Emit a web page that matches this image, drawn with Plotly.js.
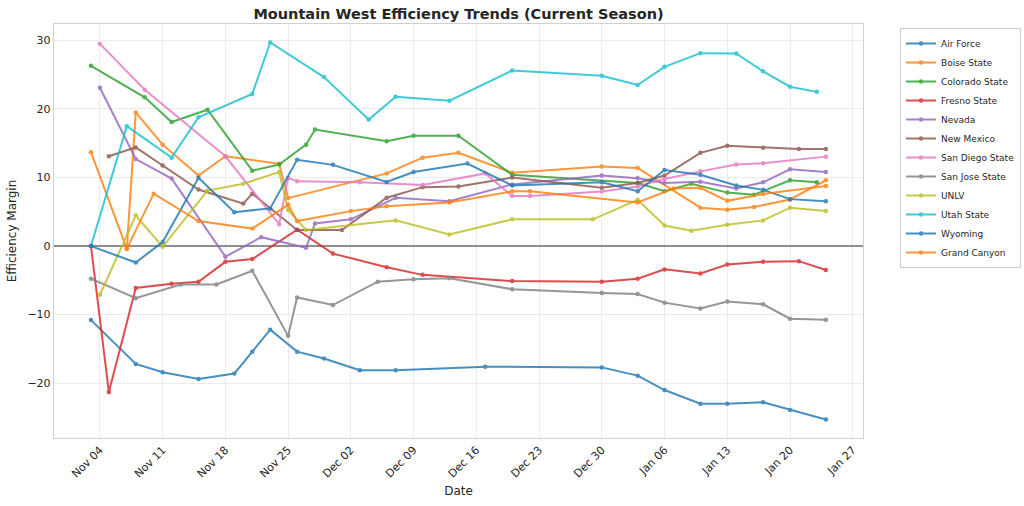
<!DOCTYPE html>
<html>
<head>
<meta charset="utf-8">
<script src="https://cdn.plot.ly/plotly-3.0.1.min.js"></script>
<style>
  html, body { margin: 0; padding: 0; background: #ffffff; }
  #chart { width: 1024px; height: 506px; }
</style>
</head>
<body>
<div id="chart"></div>
<script>
// ---- Data ----
const teams = ["Air Force", "Boise State", "Colorado State", "Fresno State", "Nevada",
  "New Mexico", "San Diego State", "San Jose State", "UNLV", "Utah State", "Wyoming", "Grand Canyon"];

const airForceDates = ["2024-11-03","2024-11-08","2024-11-11","2024-11-15","2024-11-19","2024-11-21","2024-11-23","2024-11-26","2024-11-29","2024-12-03","2024-12-07","2024-12-17","2024-12-30","2025-01-03","2025-01-06","2025-01-10","2025-01-13","2025-01-17","2025-01-20","2025-01-24"];
const airForceValues = [-10.8,-17.2,-18.4,-19.4,-18.6,-15.4,-12.2,-15.4,-16.4,-18.1,-18.1,-17.6,-17.7,-18.9,-21.0,-23.0,-23.0,-22.8,-23.9,-25.3];

const boiseDates = ["2024-11-03","2024-11-07","2024-11-08","2024-11-11","2024-11-15","2024-11-18","2024-11-24","2024-11-25","2024-12-06","2024-12-10","2024-12-14","2024-12-20","2024-12-30","2025-01-03","2025-01-10","2025-01-13","2025-01-16","2025-01-20","2025-01-24"];
const boiseValues = [13.7,-0.4,19.5,14.8,10.3,13.1,12.0,7.0,10.6,12.9,13.6,10.7,11.6,11.4,5.6,5.3,5.7,6.8,9.6];

const coloradoDates = ["2024-11-03","2024-11-09","2024-11-12","2024-11-16","2024-11-21","2024-11-24","2024-11-27","2024-11-28","2024-12-06","2024-12-09","2024-12-14","2024-12-20","2025-01-03","2025-01-06","2025-01-09","2025-01-13","2025-01-16","2025-01-20","2025-01-23"];
const coloradoValues = [26.3,21.7,18.1,19.9,11.0,11.9,14.8,17.0,15.3,16.1,16.1,10.4,9.2,8.0,9.1,7.8,7.5,9.6,9.3];

const fresnoDates = ["2024-11-03","2024-11-05","2024-11-08","2024-11-12","2024-11-15","2024-11-18","2024-11-21","2024-11-26","2024-11-30","2024-12-06","2024-12-10","2024-12-20","2024-12-30","2025-01-03","2025-01-06","2025-01-10","2025-01-13","2025-01-17","2025-01-21","2025-01-24"];
const fresnoValues = [0.0,-21.3,-6.1,-5.5,-5.2,-2.3,-1.9,2.4,-1.1,-3.1,-4.2,-5.1,-5.2,-4.75,-3.4,-4.0,-2.7,-2.3,-2.2,-3.5];

const nevadaDates = ["2024-11-04","2024-11-08","2024-11-12","2024-11-18","2024-11-22","2024-11-27","2024-11-28","2024-12-02","2024-12-07","2024-12-13","2024-12-20","2024-12-30","2025-01-03","2025-01-06","2025-01-10","2025-01-14","2025-01-17","2025-01-20","2025-01-24"];
const nevadaValues = [23.1,12.7,9.85,-1.55,1.3,-0.25,3.3,3.9,7.05,6.55,9.0,10.3,9.9,9.2,9.4,8.4,9.3,11.2,10.8];

const newMexicoDates = ["2024-11-05","2024-11-08","2024-11-11","2024-11-15","2024-11-20","2024-11-21","2024-11-26","2024-12-01","2024-12-06","2024-12-10","2024-12-14","2024-12-20","2024-12-30","2025-01-03","2025-01-06","2025-01-10","2025-01-13","2025-01-17","2025-01-21","2025-01-24"];
const newMexicoValues = [13.1,14.4,11.75,8.25,6.2,7.65,2.33,2.33,7.05,8.6,8.7,10.0,8.5,9.2,10.3,13.6,14.65,14.35,14.15,14.15];

const sanDiegoDates = ["2024-11-04","2024-11-09","2024-11-18","2024-11-24","2024-11-25","2024-11-26","2024-12-03","2024-12-10","2024-12-17","2024-12-20","2024-12-22","2024-12-30","2025-01-03","2025-01-06","2025-01-10","2025-01-14","2025-01-17","2025-01-24"];
const sanDiegoValues = [29.5,22.8,13.1,3.2,9.95,9.45,9.3,8.9,10.6,7.3,7.3,7.95,8.7,9.8,10.9,11.9,12.1,13.05];

const sanJoseDates = ["2024-11-03","2024-11-08","2024-11-13","2024-11-17","2024-11-21","2024-11-25","2024-11-26","2024-11-30","2024-12-05","2024-12-09","2024-12-13","2024-12-20","2024-12-30","2025-01-03","2025-01-06","2025-01-10","2025-01-13","2025-01-17","2025-01-20","2025-01-24"];
const sanJoseValues = [-4.75,-7.6,-5.6,-5.6,-3.6,-13.1,-7.5,-8.6,-5.2,-4.85,-4.7,-6.3,-6.85,-7.0,-8.25,-9.1,-8.1,-8.5,-10.6,-10.75];

const unlvDates = ["2024-11-04","2024-11-08","2024-11-11","2024-11-16","2024-11-20","2024-11-24","2024-11-25","2024-11-27","2024-12-07","2024-12-13","2024-12-20","2024-12-29","2025-01-03","2025-01-06","2025-01-09","2025-01-13","2025-01-17","2025-01-20","2025-01-24"];
const unlvValues = [-7.1,4.45,-0.1,8.1,9.1,10.8,5.25,2.35,3.75,1.7,3.9,3.9,6.75,3.0,2.25,3.1,3.75,5.6,5.1];

const utahDates = ["2024-11-03","2024-11-07","2024-11-12","2024-11-15","2024-11-21","2024-11-23","2024-11-29","2024-12-04","2024-12-07","2024-12-13","2024-12-20","2024-12-30","2025-01-03","2025-01-06","2025-01-10","2025-01-14","2025-01-17","2025-01-20","2025-01-23"];
const utahValues = [0.0,17.5,12.9,18.8,22.2,29.7,24.65,18.45,21.8,21.2,25.6,24.85,23.5,26.15,28.15,28.1,25.5,23.25,22.5];

const wyomingDates = ["2024-11-03","2024-11-08","2024-11-11","2024-11-15","2024-11-19","2024-11-23","2024-11-26","2024-11-30","2024-12-06","2024-12-09","2024-12-15","2024-12-20","2024-12-30","2025-01-03","2025-01-06","2025-01-10","2025-01-14","2025-01-17","2025-01-20","2025-01-24"];
const wyomingValues = [0.0,-2.4,0.6,9.95,4.95,5.5,12.6,11.85,9.35,10.8,12.05,8.85,9.3,8.0,11.1,10.4,8.85,8.2,6.85,6.55];

const grandCanyonDates = ["2024-11-07","2024-11-10","2024-11-15","2024-11-21","2024-11-25","2024-11-26","2024-12-02","2024-12-06","2024-12-13","2024-12-20","2024-12-22","2025-01-03","2025-01-07","2025-01-10","2025-01-13","2025-01-17","2025-01-24"];
const grandCanyonValues = [-0.4,7.65,3.65,2.55,6.05,3.65,5.1,5.8,6.35,8.0,8.0,6.35,8.4,8.5,6.6,7.6,8.75];

const seriesDates = [airForceDates, boiseDates, coloradoDates, fresnoDates, nevadaDates, newMexicoDates,
  sanDiegoDates, sanJoseDates, unlvDates, utahDates, wyomingDates, grandCanyonDates];
const seriesValues = [airForceValues, boiseValues, coloradoValues, fresnoValues, nevadaValues, newMexicoValues,
  sanDiegoValues, sanJoseValues, unlvValues, utahValues, wyomingValues, grandCanyonValues];

const palette = ["#1f77b4","#ff7f0e","#2ca02c","#d62728","#9467bd","#8c564b","#e377c2","#7f7f7f","#bcbd22","#17becf"];

const titleText = "Mountain West Efficiency Trends (Current Season)";
const xLabel = "Date";
const yLabel = "Efficiency Margin";

// ---- Build traces ----
const traces = teams.map((name, i) => ({
  type: "scatter",
  mode: "lines+markers",
  name: name,
  x: seriesDates[i],
  y: seriesValues[i],
  opacity: 0.82,
  line: { color: palette[i % palette.length], width: 2 },
  marker: { color: palette[i % palette.length], size: 4.5 }
}));

const font = "DejaVu Sans, Arial, sans-serif";

const layout = {
  width: 1024,
  height: 506,
  margin: { l: 54, r: 161, t: 24, b: 68, autoexpand: false },
  paper_bgcolor: "#ffffff",
  plot_bgcolor: "#ffffff",
  font: { family: font, color: "#262626", size: 11 },
  title: {
    text: "<b>" + titleText + "</b>",
    font: { family: font, size: 14.5, color: "#262626" },
    x: 0.5, xref: "paper", xanchor: "center",
    y: 1 - 14 / 506, yref: "container", yanchor: "middle"
  },
  xaxis: {
    type: "date",
    range: ["2024-10-29 21:00", "2025-01-28 03:30"],
    tick0: "2024-11-04",
    dtick: 7 * 24 * 3600 * 1000,
    tickformat: "%b %d",
    tickangle: -45,
    tickfont: { family: font, size: 11, color: "#262626" },
    showgrid: true, gridcolor: "#ebebeb", gridwidth: 1,
    showline: true, mirror: true, linecolor: "#d0d0d0", linewidth: 1.2,
    zeroline: false,
    ticks: "",
    automargin: false,
    title: { text: xLabel, font: { family: font, size: 12, color: "#262626" }, standoff: 7 }
  },
  yaxis: {
    range: [-28.0, 32.4],
    tick0: 0, dtick: 10,
    tickfont: { family: font, size: 11, color: "#262626" },
    showgrid: true, gridcolor: "#ebebeb", gridwidth: 1,
    showline: true, mirror: true, linecolor: "#d0d0d0", linewidth: 1.2,
    zeroline: true, zerolinecolor: "#8f8f8f", zerolinewidth: 1.5,
    ticks: "",
    automargin: false,
    title: { text: yLabel, font: { family: font, size: 12, color: "#262626" }, standoff: 8 }
  },
  showlegend: true,
  legend: {
    xref: "container", yref: "container",
    x: 900 / 1024, xanchor: "left",
    y: 1 - 28 / 506, yanchor: "top",
    bgcolor: "#ffffff",
    bordercolor: "#cccccc",
    borderwidth: 1,
    itemwidth: 30,
    font: { family: font, size: 9, color: "#262626" },
    tracegroupgap: 0
  }
};

Plotly.newPlot("chart", traces, layout, { staticPlot: true, displayModeBar: false });
</script>
</body>
</html>
